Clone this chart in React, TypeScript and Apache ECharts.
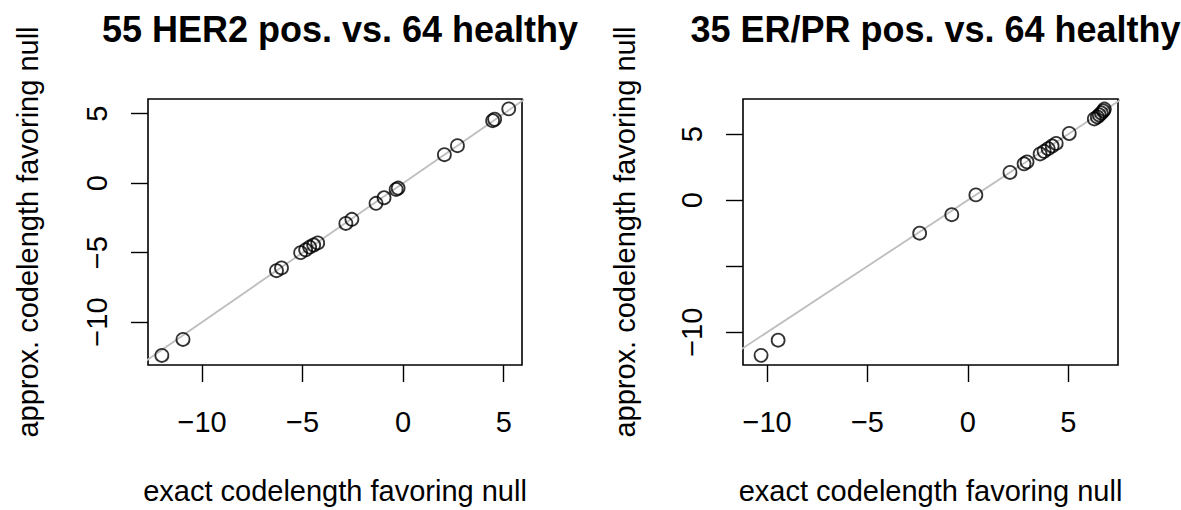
import React, { useEffect, useRef } from "react";
import * as echarts from "echarts";

// Panel 1: 55 HER2 pos. vs. 64 healthy
const her2Exact = [-12.0, -10.95, -6.3, -6.05, -5.1, -4.85, -4.65, -4.45, -4.25, -2.85, -2.55, -1.35, -0.95, -0.35, -0.25, 2.05, 2.7, 4.45, 4.55, 5.25];
const her2Approx = [-12.4, -11.25, -6.3, -6.1, -5.0, -4.8, -4.6, -4.45, -4.3, -2.9, -2.6, -1.45, -1.05, -0.45, -0.35, 2.05, 2.7, 4.5, 4.6, 5.35];

// Panel 2: 35 ER/PR pos. vs. 64 healthy
const erExact = [-10.3, -9.45, -2.4, -0.8, 0.4, 2.1, 2.8, 2.95, 3.6, 3.8, 4.0, 4.2, 4.4, 5.05, 6.3, 6.45, 6.55, 6.65, 6.75, 6.8];
const erApprox = [-11.75, -10.6, -2.5, -1.1, 0.4, 2.1, 2.75, 2.9, 3.5, 3.7, 3.9, 4.1, 4.3, 5.05, 6.15, 6.3, 6.45, 6.6, 6.75, 6.9];

const titles = ["55 HER2 pos. vs. 64 healthy", "35 ER/PR pos. vs. 64 healthy"];
const xTitle = "exact codelength favoring null";
const yTitle = "approx. codelength favoring null";
const tickValues = [-10, -5, 0, 5];
const yLabelValues = [[-10, -5, 0, 5], [-10, 0, 5]];
const identityLine = [-20, 20];

const FONT = "'Liberation Sans', Arial, Helvetica, sans-serif";

export default function App() {
  const ref = useRef<HTMLDivElement>(null);
  useEffect(() => {
    if (!ref.current) return;
    const chart = echarts.init(ref.current, undefined, { renderer: "svg" });
    const grids = [
      { left: 148, top: 99, width: 374, height: 266 },
      { left: 743, top: 99, width: 375, height: 266 },
    ];
    const ranges = [
      { x: [-12.69, 5.91], y: [-13.09, 6.06] },
      { x: [-11.2, 7.48], y: [-12.48, 7.66] },
    ];
    const fmt = (v: number) => (v < 0 ? "\u2212" + Math.abs(v) : String(v));
    const mkX = (i: number) => ({
      type: "value",
      gridIndex: i,
      min: ranges[i].x[0],
      max: ranges[i].x[1],
      name: xTitle,
      nameLocation: "middle",
      nameGap: 111,
      nameTextStyle: { fontFamily: FONT, fontSize: 29, color: "#000" },
      axisLine: { show: false, onZero: false },
      splitLine: { show: false },
      axisTick: {
        show: true,
        customValues: tickValues,
        length: 17,
        lineStyle: { color: "#000", width: 1.4 },
      },
      axisLabel: {
        customValues: tickValues,
        margin: 42,
        fontFamily: FONT,
        fontSize: 29,
        color: "#000",
        formatter: fmt,
      },
    });
    const mkY = (i: number) => ({
      type: "value",
      gridIndex: i,
      min: ranges[i].y[0],
      max: ranges[i].y[1],
      name: yTitle,
      nameLocation: "middle",
      nameGap: i === 0 ? 106 : 104,
      nameRotate: 90,
      nameTextStyle: { fontFamily: FONT, fontSize: 29, color: "#000" },
      axisLine: { show: false, onZero: false },
      splitLine: { show: false },
      axisTick: {
        show: true,
        customValues: tickValues,
        length: 17,
        lineStyle: { color: "#000", width: 1.4 },
      },
      axisLabel: {
        customValues: yLabelValues[i],
        rotate: 90,
        margin: 37,
        fontFamily: FONT,
        fontSize: 29,
        color: "#000",
        formatter: fmt,
      },
    });
    const pts = (xs: number[], ys: number[]) => xs.map((x, k) => [x, ys[k]]);
    const lineSeries = (i: number) => ({
      type: "line",
      xAxisIndex: i,
      yAxisIndex: i,
      data: [
        [identityLine[0], identityLine[0]],
        [identityLine[1], identityLine[1]],
      ],
      showSymbol: false,
      symbol: "none",
      clip: true,
      lineStyle: { color: "#bebebe", width: 1.8 },
      z: 1,
      silent: true,
    });
    const scatterSeries = (i: number, xs: number[], ys: number[]) => ({
      type: "scatter",
      xAxisIndex: i,
      yAxisIndex: i,
      data: pts(xs, ys),
      symbol: "circle",
      symbolSize: 13,
      itemStyle: { color: "rgba(0,0,0,0)", borderColor: "#000", borderWidth: 1.8 },
      z: 2,
    });
    chart.setOption({
      animation: false,
      backgroundColor: "#fff",
      title: titles.map((t, i) => ({
        text: t,
        left: grids[i].left + grids[i].width / 2,
        top: 6,
        textAlign: "center",
        textStyle: { fontFamily: FONT, fontSize: 36, fontWeight: "bold", color: "#000" },
      })),
      grid: grids.map((g) => ({
        ...g,
        show: true,
        borderColor: "#000",
        borderWidth: 1.6,
        backgroundColor: "transparent",
        containLabel: false,
      })),
      xAxis: [mkX(0), mkX(1)],
      yAxis: [mkY(0), mkY(1)],
      series: [
        lineSeries(0),
        scatterSeries(0, her2Exact, her2Approx),
        lineSeries(1),
        scatterSeries(1, erExact, erApprox),
      ],
    });
    return () => chart.dispose();
  }, []);
  return (
    <div
      ref={ref}
      style={{ position: "fixed", left: 0, top: 0, width: 1181, height: 510, background: "#fff" }}
    />
  );
}
